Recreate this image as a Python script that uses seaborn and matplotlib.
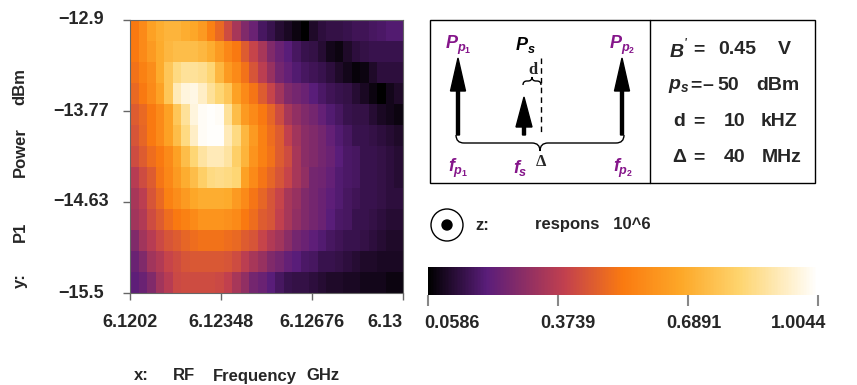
import numpy as np
import pandas as pd
import matplotlib
matplotlib.use("Agg")
import matplotlib.pyplot as plt
import seaborn as sns
from matplotlib.colors import LinearSegmentedColormap
from matplotlib.path import Path
from matplotlib.patches import PathPatch, Circle, Rectangle

# response (10^6), rows: P1 power from -12.9 dBm (top) down to -15.5 dBm (bottom)
# columns: RF frequency 6.1202 .. 6.13 GHz
response = [
    [0.53, 0.58, 0.65, 0.69, 0.71, 0.71, 0.69, 0.67, 0.63, 0.55, 0.49, 0.42, 0.34, 0.27, 0.23, 0.17,
     0.15, 0.12, 0.10, 0.08, 0.06, 0.11, 0.13, 0.14, 0.14, 0.15, 0.16, 0.16, 0.17, 0.18, 0.19, 0.19],
    [0.53, 0.58, 0.63, 0.68, 0.72, 0.74, 0.74, 0.74, 0.72, 0.69, 0.63, 0.57, 0.53, 0.46, 0.40, 0.34,
     0.27, 0.23, 0.20, 0.17, 0.15, 0.14, 0.12, 0.09, 0.08, 0.11, 0.13, 0.14, 0.15, 0.15, 0.15, 0.15],
    [0.51, 0.55, 0.59, 0.68, 0.77, 0.84, 0.87, 0.87, 0.86, 0.82, 0.72, 0.63, 0.58, 0.51, 0.44, 0.38,
     0.31, 0.25, 0.22, 0.19, 0.17, 0.16, 0.15, 0.13, 0.11, 0.09, 0.07, 0.08, 0.11, 0.13, 0.13, 0.13],
    [0.49, 0.53, 0.58, 0.65, 0.77, 0.91, 0.96, 0.97, 0.93, 0.87, 0.82, 0.77, 0.65, 0.58, 0.52, 0.46,
     0.40, 0.33, 0.27, 0.25, 0.23, 0.20, 0.18, 0.16, 0.15, 0.14, 0.12, 0.10, 0.08, 0.06, 0.09, 0.11],
    [0.46, 0.49, 0.53, 0.58, 0.65, 0.77, 0.87, 0.96, 0.99, 1.00, 0.99, 0.87, 0.74, 0.63, 0.58, 0.53,
     0.48, 0.42, 0.34, 0.30, 0.27, 0.25, 0.22, 0.19, 0.17, 0.15, 0.14, 0.14, 0.12, 0.10, 0.09, 0.08],
    [0.44, 0.48, 0.53, 0.58, 0.65, 0.74, 0.84, 0.93, 0.99, 1.00, 1.00, 0.91, 0.84, 0.72, 0.63, 0.55,
     0.50, 0.46, 0.39, 0.33, 0.29, 0.27, 0.25, 0.22, 0.19, 0.17, 0.15, 0.15, 0.14, 0.13, 0.12, 0.11],
    [0.42, 0.46, 0.50, 0.53, 0.58, 0.65, 0.74, 0.82, 0.88, 0.91, 0.91, 0.88, 0.80, 0.71, 0.61, 0.55,
     0.51, 0.46, 0.42, 0.34, 0.29, 0.27, 0.25, 0.23, 0.20, 0.18, 0.17, 0.15, 0.15, 0.14, 0.13, 0.12],
    [0.37, 0.42, 0.46, 0.52, 0.57, 0.63, 0.69, 0.74, 0.80, 0.84, 0.85, 0.84, 0.82, 0.65, 0.58, 0.52,
     0.48, 0.44, 0.40, 0.34, 0.30, 0.25, 0.24, 0.22, 0.19, 0.18, 0.17, 0.15, 0.15, 0.14, 0.13, 0.12],
    [0.34, 0.38, 0.44, 0.49, 0.55, 0.59, 0.63, 0.67, 0.69, 0.69, 0.69, 0.68, 0.63, 0.58, 0.52, 0.48,
     0.44, 0.40, 0.34, 0.31, 0.27, 0.25, 0.23, 0.21, 0.19, 0.17, 0.16, 0.15, 0.15, 0.14, 0.13, 0.13],
    [0.33, 0.36, 0.42, 0.46, 0.50, 0.53, 0.55, 0.58, 0.61, 0.61, 0.61, 0.60, 0.58, 0.53, 0.50, 0.46,
     0.44, 0.39, 0.34, 0.30, 0.27, 0.25, 0.23, 0.20, 0.18, 0.17, 0.15, 0.15, 0.14, 0.13, 0.12, 0.12],
    [0.27, 0.33, 0.37, 0.41, 0.44, 0.46, 0.48, 0.50, 0.51, 0.51, 0.51, 0.50, 0.49, 0.46, 0.44, 0.40,
     0.36, 0.33, 0.29, 0.25, 0.23, 0.21, 0.19, 0.17, 0.16, 0.15, 0.15, 0.14, 0.13, 0.12, 0.11, 0.11],
    [0.23, 0.27, 0.33, 0.36, 0.40, 0.42, 0.44, 0.45, 0.45, 0.45, 0.45, 0.44, 0.42, 0.38, 0.34, 0.31,
     0.27, 0.25, 0.22, 0.20, 0.18, 0.17, 0.15, 0.15, 0.14, 0.13, 0.12, 0.11, 0.11, 0.10, 0.10, 0.10],
    [0.21, 0.23, 0.27, 0.33, 0.37, 0.41, 0.42, 0.42, 0.42, 0.42, 0.41, 0.39, 0.34, 0.30, 0.25, 0.23,
     0.20, 0.17, 0.15, 0.14, 0.14, 0.13, 0.12, 0.11, 0.11, 0.10, 0.10, 0.09, 0.09, 0.09, 0.08, 0.08],
]
x_ticklabels = ["6.1202", "6.12348", "6.12676", "6.13"]
y_ticklabels = ["\u221212.9", "\u221213.77", "\u221214.63", "\u221215.5"]
cbar_ticks = [0.0586, 0.3739, 0.6891, 1.0044]
cbar_ticklabels = ["0.0586", "0.3739", "0.6891", "1.0044"]

param_names = [r"$B^{'}$", r"$p_s$", "d", "\u0394"]
param_signs = ["", "\u2013", "", ""]
param_values = ["0.45", "50", "10", "40"]
param_units = ["V", "dBm", "kHZ", "MHz"]

sns.set_theme(style="white")
plt.rcParams["font.family"] = ["Liberation Sans", "DejaVu Sans"]
plt.rcParams["font.weight"] = "bold"
plt.rcParams["mathtext.fontset"] = "custom"
plt.rcParams["mathtext.it"] = "Liberation Sans:italic:bold"
plt.rcParams["mathtext.rm"] = "Liberation Sans:bold"
plt.rcParams["mathtext.bf"] = "Liberation Sans:bold"

sunset = LinearSegmentedColormap.from_list(
    "sunset",
    [(0.0, "#000000"), (0.15, "#5a1d7a"), (0.35, "#c2404e"), (0.5, "#fa7a10"),
     (0.65, "#fda828"), (0.8, "#fed46e"), (1.0, "#ffffff")])
purple = "#85158a"
grey = "#666666"

W, H = 857, 385
fig = plt.figure(figsize=(W / 100, H / 100), dpi=100)


def px_axes(x0, y0, x1, y1):
    return fig.add_axes([x0 / W, 1 - y1 / H, (x1 - x0) / W, (y1 - y0) / H])


ax = px_axes(130, 20, 403, 293)
cax = px_axes(428, 267, 818, 295)

df = pd.DataFrame(response)
sns.heatmap(df, ax=ax, cmap=sunset, vmin=cbar_ticks[0], vmax=cbar_ticks[-1],
            cbar_ax=cax, cbar_kws={"orientation": "horizontal", "ticks": cbar_ticks})

nrows, ncols = df.shape
ax.set_xticks(np.linspace(0, ncols, len(x_ticklabels)))
ax.set_xticklabels(x_ticklabels, rotation=0, fontsize=13, fontweight="bold")
ax.set_yticks(np.linspace(0, nrows, len(y_ticklabels)))
ax.set_yticklabels(y_ticklabels, rotation=0, fontsize=13, fontweight="bold", ha="center")
ax.get_xticklabels()[-1].set_ha("right")
ax.tick_params(axis="x", length=5, width=1, color=grey, pad=10, bottom=True)
ax.tick_params(axis="y", length=5, width=1, color=grey, pad=30, left=True)
ax.set_xlabel("")
ax.set_ylabel("")
for s in ax.spines.values():
    s.set_visible(True)
    s.set_color(grey)
    s.set_linewidth(0.8)

cbar = ax.collections[0].colorbar
cbar.outline.set_visible(False)
cax.set_xticks(cbar_ticks)
cax.set_xticklabels([])
cax.tick_params(axis="x", length=8, width=1.5, color="#888888", bottom=True)

# overlay in pixel coordinates for the annotations
ov = fig.add_axes([0, 0, 1, 1])
ov.set_xlim(0, W)
ov.set_ylim(H, 0)
ov.axis("off")
ov.patch.set_alpha(0)

# colorbar tick labels (placed like the original legend)
for txt, x in zip(cbar_ticklabels, [452, 568, 694, 799]):
    ov.text(x, 323, txt, ha="center", va="center", fontsize=13, fontweight="bold")

# axis labels
for txt, y in zip(["y:", "P1", "Power", "dBm"], [281, 232, 152, 87]):
    ov.text(20, y, txt, rotation=90, ha="center", va="center", fontsize=12, fontweight="bold")
for txt, x in zip(["x:", "RF", "Frequency", "GHz"], [141, 184, 255, 323]):
    ov.text(x, 376, txt, ha="center", va="center", fontsize=12, fontweight="bold")

# parameter box
ov.add_patch(Rectangle((430, 20), 385, 163, fill=False, lw=1, ec="black"))
ov.plot([650, 650], [20, 183], color="black", lw=1)


def brace(x0, x1, y, h):
    xm = (x0 + x1) / 2
    r = min(abs(h), (x1 - x0) / 4)
    verts = [(x0, y - h), (x0, y), (x0 + r, y), (xm - r, y), (xm, y), (xm, y + h),
             (xm, y), (xm + r, y), (x1 - r, y), (x1, y), (x1, y - h)]
    codes = [Path.MOVETO, Path.CURVE3, Path.CURVE3, Path.LINETO, Path.CURVE3, Path.CURVE3,
             Path.CURVE3, Path.CURVE3, Path.LINETO, Path.CURVE3, Path.CURVE3]
    ov.add_patch(PathPatch(Path(verts, codes), fill=False, lw=1, ec="black"))


for x in [458, 622]:
    ov.arrow(x, 135, 0, -77, width=3, head_width=15, head_length=33,
             length_includes_head=True, color="black")
ov.arrow(524, 135, 0, -38, width=3, head_width=16, head_length=30,
         length_includes_head=True, color="black")
ov.plot([541, 541], [58, 135], color="black", lw=1, dashes=(4, 3))
brace(456, 624, 143, 8)
brace(523, 541, 81, -4)

ov.text(458, 45, r"$P_{p_1}$", color=purple, ha="center", va="center", fontsize=13)
ov.text(525, 45, r"$P_s$", color="black", ha="center", va="center", fontsize=13)
ov.text(622, 45, r"$P_{p_2}$", color=purple, ha="center", va="center", fontsize=13)
ov.text(533, 70, "d", family="Liberation Serif", fontweight="bold", ha="center", va="center", fontsize=12)
ov.text(541, 162, "\u0394", family="Liberation Serif", fontweight="bold", ha="center", va="center", fontsize=12)
ov.text(458, 168, r"$f_{p_1}$", color=purple, ha="center", va="center", fontsize=13)
ov.text(520, 168, r"$f_s$", color=purple, ha="center", va="center", fontsize=13)
ov.text(623, 168, r"$f_{p_2}$", color=purple, ha="center", va="center", fontsize=13)

val_x = [737, 728, 735, 735]
unit_x = [784, 778, 779, 782]
eq_x = [699, 696, 699, 699]
for i, y in enumerate([50, 86, 122, 158]):
    ov.text(679, y, param_names[i], ha="center", va="center", fontsize=14, fontweight="bold")
    ov.text(eq_x[i], y, "=", ha="center", va="center", fontsize=14, fontweight="bold")
    if param_signs[i]:
        ov.text(708, y, param_signs[i], ha="center", va="center", fontsize=14, fontweight="bold")
    ov.text(val_x[i], y, param_values[i], ha="center", va="center", fontsize=14, fontweight="bold")
    ov.text(unit_x[i], y, param_units[i], ha="center", va="center", fontsize=14, fontweight="bold")

# z legend
ov.add_patch(Circle((447, 225), 16, fill=False, lw=1, ec="black"))
ov.add_patch(Circle((447, 225), 5, color="black"))
ov.text(475, 225, "z:", ha="left", va="center", fontsize=12, fontweight="bold")
ov.text(535, 225, "respons   10^6", ha="left", va="center", fontsize=12, fontweight="bold")

fig.savefig("out.png", dpi=100)
